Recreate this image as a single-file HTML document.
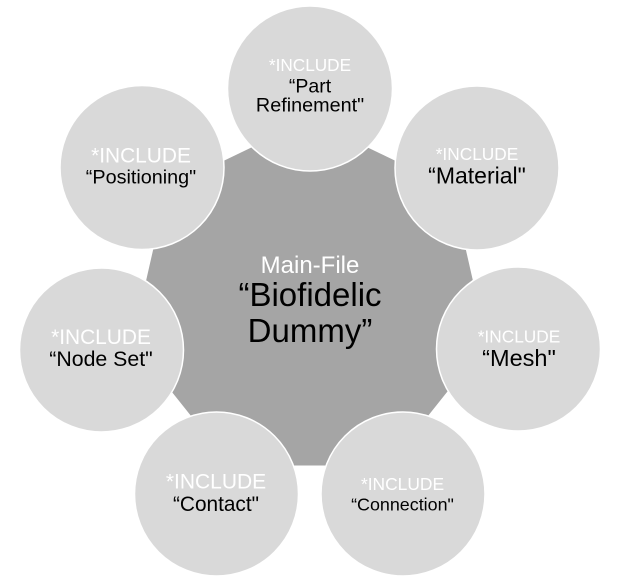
<!DOCTYPE html>
<html>
<head>
<meta charset="utf-8">
<style>
  html,body{margin:0;padding:0;background:#ffffff;}
  svg{display:block;}
  text{font-family:"Liberation Sans",Arial,sans-serif;}
</style>
</head>
<body>
<svg width="617" height="578" viewBox="0 0 617 578" xmlns="http://www.w3.org/2000/svg">
  <rect x="0" y="0" width="617" height="578" fill="#ffffff"/>
  <!-- central heptagon -->
  <polygon points="309.5,119.5 451.8,188 486.9,342 388.5,465.5 230.5,465.5 132.1,342 167.2,188" fill="#a5a5a5"/>

  <!-- outer circles -->
  <g fill="#d9d9d9" stroke="#ffffff" stroke-width="1.5">
    <circle cx="310" cy="88.5" r="82.5"/>
    <circle cx="477" cy="168" r="82"/>
    <circle cx="518.5" cy="349" r="82"/>
    <circle cx="403" cy="494" r="82"/>
    <circle cx="216.5" cy="494" r="82"/>
    <circle cx="101.5" cy="350" r="82"/>
    <circle cx="142" cy="167.5" r="82"/>
  </g>

  <!-- center text -->
  <text x="310" y="273" text-anchor="middle" font-size="24" fill="#ffffff">Main-File</text>
  <text x="310" y="306" text-anchor="middle" font-size="33" fill="#000000">“Biofidelic</text>
  <text x="310" y="342" text-anchor="middle" font-size="33" fill="#000000">Dummy”</text>

  <!-- top -->
  <text x="310" y="71" text-anchor="middle" font-size="17.2" fill="#ffffff">*INCLUDE</text>
  <text x="310" y="92.7" text-anchor="middle" font-size="19.5" fill="#000000">“Part</text>
  <text x="310" y="111.7" text-anchor="middle" font-size="19.8" fill="#000000">Refinement"</text>

  <!-- material -->
  <text x="477" y="160" text-anchor="middle" font-size="17.3" fill="#ffffff">*INCLUDE</text>
  <text x="477" y="183.3" text-anchor="middle" font-size="23" fill="#000000">“Material"</text>

  <!-- mesh -->
  <text x="519" y="342.3" text-anchor="middle" font-size="17.3" fill="#ffffff">*INCLUDE</text>
  <text x="519" y="366" text-anchor="middle" font-size="23.5" fill="#000000">“Mesh"</text>

  <!-- connection -->
  <text x="402.5" y="490" text-anchor="middle" font-size="17.4" fill="#ffffff">*INCLUDE</text>
  <text x="402.5" y="510.7" text-anchor="middle" font-size="17.9" fill="#000000">“Connection"</text>

  <!-- contact -->
  <text x="216" y="488.3" text-anchor="middle" font-size="21" fill="#ffffff">*INCLUDE</text>
  <text x="216" y="511" text-anchor="middle" font-size="20.8" fill="#000000">“Contact"</text>

  <!-- node set -->
  <text x="101" y="344" text-anchor="middle" font-size="20.9" fill="#ffffff">*INCLUDE</text>
  <text x="101" y="366" text-anchor="middle" font-size="21.3" fill="#000000">“Node Set"</text>

  <!-- positioning -->
  <text x="141" y="162.7" text-anchor="middle" font-size="20.9" fill="#ffffff">*INCLUDE</text>
  <text x="141" y="183.3" text-anchor="middle" font-size="19.8" fill="#000000">“Positioning"</text>
</svg>
</body>
</html>
